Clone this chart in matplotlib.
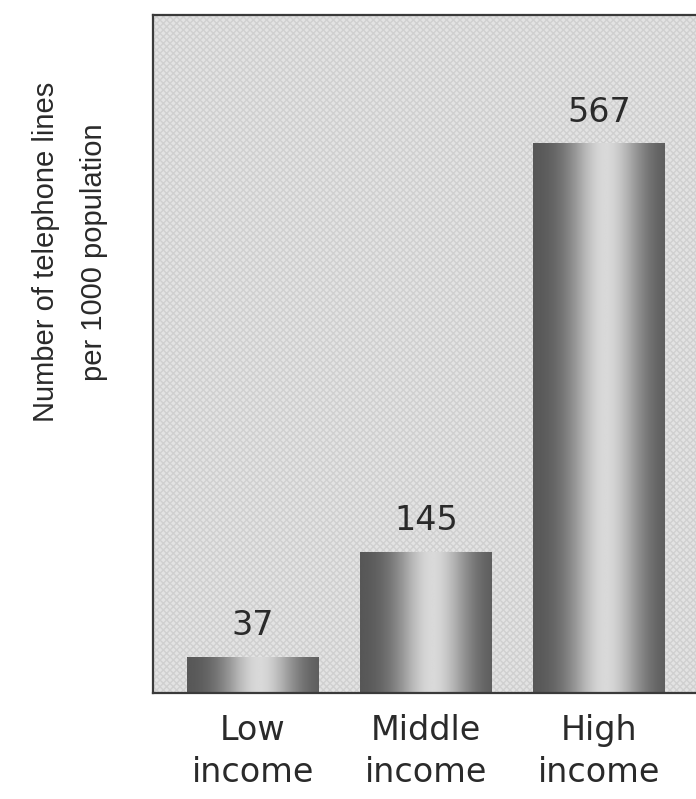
import numpy as np
import matplotlib
matplotlib.use("Agg")
import matplotlib.pyplot as plt
from matplotlib.patches import Rectangle

categories = ["Low\nincome", "Middle\nincome", "High\nincome"]
values = [37, 145, 567]
ylabel = "Number of telephone lines\nper 1000 population"

plt.rcParams['font.family'] = ['DejaVu Sans']

fig = plt.figure(figsize=(6.96, 7.99), dpi=100)
ax = fig.add_axes([153 / 696, 1 - 693 / 799, 1 - 153 / 696 + 0.01, (693 - 15) / 799])

# stippled grey background
ax.set_facecolor('#e3e3e3')
ax.add_patch(Rectangle((0, 0), 1, 1, transform=ax.transAxes, facecolor='none',
                       edgecolor='#d0d0d0', hatch='xxxxx', lw=0, zorder=0))

# cylinder-like shading across each bar
t = np.linspace(0, 1, 200)
shade = 0.33 + 0.52 * np.exp(-((t - 0.55) / 0.28) ** 2)
shade = np.tile(shade, (2, 1))

width = 0.757
x = np.arange(len(values))
for xi, v in zip(x, values):
    ax.imshow(shade, cmap='gray', vmin=0, vmax=1, aspect='auto',
              extent=(xi - width / 2, xi + width / 2, 0, v), zorder=2,
              interpolation='bilinear')
    ax.annotate(str(v), (xi, v), xytext=(0, 11), textcoords='offset points',
                ha='center', va='bottom', fontsize=24, color='#2a2a2a')

ax.set_xlim(-0.575, 2.60)
ax.set_ylim(0, 700)
ax.set_xticks(x)
ax.set_xticklabels(categories, fontsize=24, color='#2a2a2a', linespacing=1.35)
ax.tick_params(axis='x', length=0, pad=15)
ax.set_yticks([])

for s in ['left', 'top', 'bottom']:
    ax.spines[s].set_color('#3a3a3a')
    ax.spines[s].set_linewidth(1.6)
ax.spines['right'].set_visible(False)

fig.text(70 / 696, 1 - 252 / 799, ylabel, rotation=90, ha='center', va='center',
         fontsize=21, color='#2a2a2a', linespacing=1.9, multialignment='center',
         family=['Liberation Sans', 'DejaVu Sans'])

fig.savefig('out.png', dpi=100)
